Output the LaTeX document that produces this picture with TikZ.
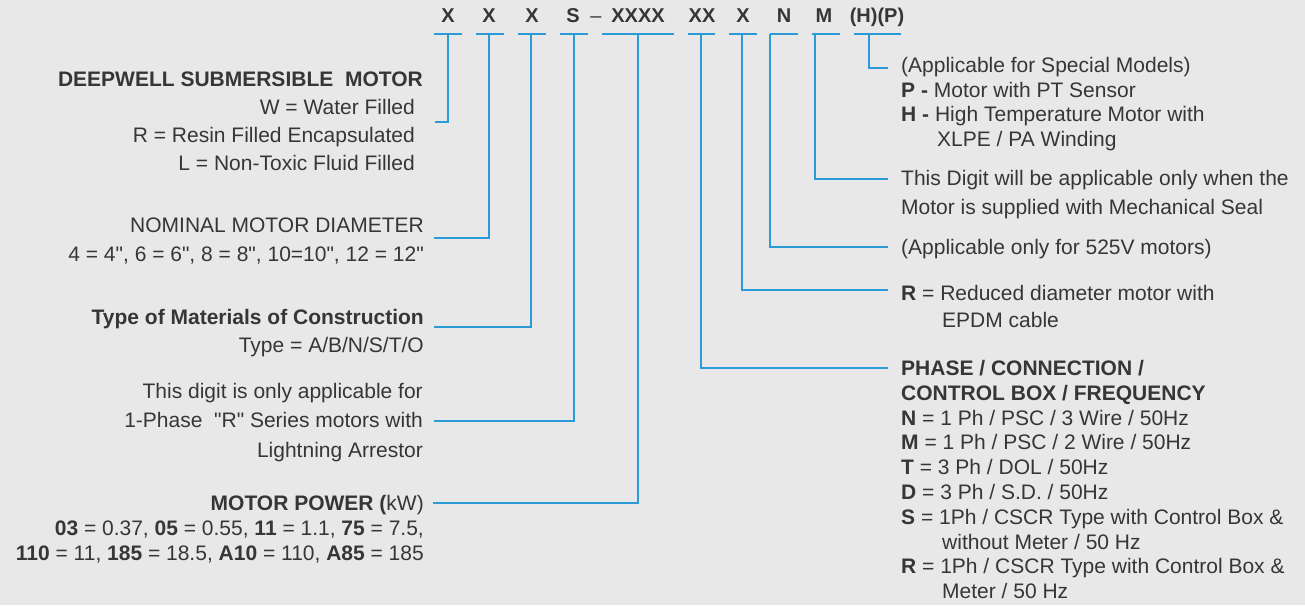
\documentclass[tikz,border=0pt]{standalone}
\usepackage{fontspec}
\setmainfont{Liberation Sans}[Ligatures=TeXOff]
\definecolor{bg}{HTML}{E8E8E8}
\definecolor{ink}{HTML}{363636}
\definecolor{wire}{HTML}{2B9BD8}
\newcommand\dq{\symbol{34}}
\newcommand\tailgap{\hbox to 8pt{}}
\begin{document}
\begin{tikzpicture}[x=1pt,y=-1pt,
  code/.style={font=\fontsize{20}{24}\selectfont\bfseries, text=ink, inner sep=0, anchor=base},
  ul/.style={draw=wire, line width=1.3pt},
  conn/.style={draw=wire, line width=1.3pt},
  lbl/.style={text=ink, inner sep=0, font=\fontsize{21}{#1}\selectfont},
  lt/.style={lbl=#1, align=right, anchor=north east},
  rt/.style={lbl=#1, align=left, anchor=north west}]
\fill[bg] (0,0) rectangle (1305,605);
\useasboundingbox (0,0) rectangle (1305,605);

% code letters with underlines
\foreach \n/\t/\x/\l/\r/\k in {c1/X/448/434/462/448, c2/X/489/476/504/489,
  c3/X/532/518/546/531, c4/S/573/560/588/574, c5/XXXX/638/602/674/638,
  c6/XX/702/688/715/701, c7/X/743/729/757/742, c8/N/784/770/798/770,
  c9/M/824/812/840/815, c10/{(H)(P)}/877/854/901/869} {
  \node[code] (\n) at (\x,22) {\t};
  \coordinate (\n l) at (\l,34);
  \coordinate (\n r) at (\r,34);
  \coordinate (\n t) at (\k,34);
  \draw[ul] (\n l) -- (\n r);
}
\node[code, font=\fontsize{20}{24}\selectfont] (dash) at (596,22) {–};

% left labels
\node[lt=28] (deep) at (423,72) {{\bfseries DEEPWELL SUBMERSIBLE\ \ MOTOR}\\
  W = Water Filled\tailgap\\
  R = Resin Filled Encapsulated\tailgap\\
  L = Non-Toxic Fluid Filled\tailgap};
\node[lt=29] (dia) at (424,218) {NOMINAL MOTOR DIAMETER\\
  4 = 4\dq, 6 = 6\dq, 8 = 8\dq, 10=10\dq, 12 = 12\dq};
\node[lt=28] (mat) at (424,309) {{\bfseries Type of Materials of Construction}\\
  Type = A/B/N/S/T/O};
\node[lt=29.5] (la) at (423,383) {This digit is only applicable for\\
  1-Phase\ \ \dq R\dq\ Series motors with\\
  Lightning Arrestor};
\node[lt=25] (pow) at (424,495) {{\bfseries MOTOR POWER (}kW)\\
  {\bfseries 03} = 0.37, {\bfseries 05} = 0.55, {\bfseries 11} = 1.1, {\bfseries 75} = 7.5,\\
  {\bfseries 110} = 11, {\bfseries 185} = 18.5, {\bfseries A10} = 110, {\bfseries A85} = 185};

% right labels
\node[rt=24.7] (spec) at (901,57) {(Applicable for Special Models)\\
  {\bfseries P -} Motor with PT Sensor\\
  {\bfseries H -} High Temperature Motor with\\
  \hspace*{36pt}XLPE / PA Winding};
\node[rt=29] (seal) at (901,170) {This Digit will be applicable only when the\\
  Motor is supplied with Mechanical Seal};
\node[rt=25] (v525) at (901,239) {(Applicable only for 525V motors)};
\node[rt=27] (red) at (901,285) {{\bfseries R} = Reduced diameter motor with\\
  \hspace*{41pt}EPDM cable};
\node[rt=24.8] (ph) at (901,360) {{\bfseries PHASE / CONNECTION /}\\
  {\bfseries CONTROL BOX / FREQUENCY}\\
  {\bfseries N} = 1 Ph / PSC / 3 Wire / 50Hz\\
  {\bfseries M} = 1 Ph / PSC / 2 Wire / 50Hz\\
  {\bfseries T} = 3 Ph / DOL / 50Hz\\
  {\bfseries D} = 3 Ph / S.D. / 50Hz\\
  {\bfseries S} = 1Ph / CSCR Type with Control Box \&\\
  \hspace*{41pt}without Meter / 50 Hz\\
  {\bfseries R} = 1Ph / CSCR Type with Control Box \&\\
  \hspace*{41pt}Meter / 50 Hz};

% connector ends
\coordinate (e1) at (435,122);
\coordinate (e2) at (434,238);
\coordinate (e3) at (434,327);
\coordinate (e4) at (434,421);
\coordinate (e5) at (433,503);
\coordinate (e6) at (888,368);
\coordinate (e7) at (888,290);
\coordinate (e8) at (888,247);
\coordinate (e9) at (888,179);
\coordinate (e10) at (888,68);

\draw[conn] (c1t) |- (e1);
\draw[conn] (c2t) |- (e2);
\draw[conn] (c3t) |- (e3);
\draw[conn] (c4t) |- (e4);
\draw[conn] (c5t) |- (e5);
\draw[conn] (c6t) |- (e6);
\draw[conn] (c7t) |- (e7);
\draw[conn] (c8t) |- (e8);
\draw[conn] (c9t) |- (e9);
\draw[conn] (c10t) |- (e10);
\end{tikzpicture}
\end{document}
